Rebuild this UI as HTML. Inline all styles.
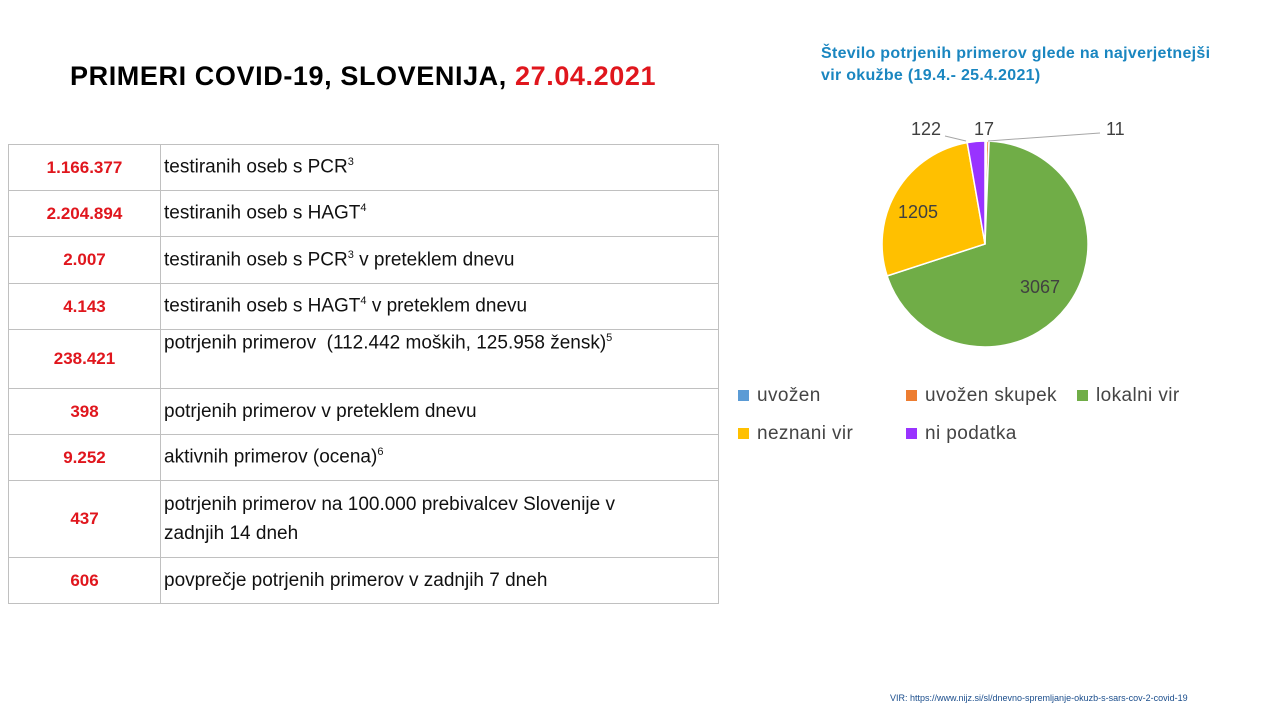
<!DOCTYPE html>
<html><head><meta charset="utf-8"><style>
body{margin:0;width:1280px;height:720px;background:#fff;position:relative;font-family:"Liberation Sans",sans-serif;overflow:hidden}
.t{position:absolute;left:70px;top:61px;font-size:27px;font-weight:bold;color:#000;letter-spacing:0.6px}
table{position:absolute;left:8px;top:144px;border-collapse:collapse;width:711px}
td{border:1px solid #c0c0c0;font-size:19px;color:#111;padding:0 0 0 3px;vertical-align:middle}
td.n{width:151px;text-align:center;color:#e0161d;font-weight:bold;font-size:17px;padding:0}
sup{font-size:11px}
.leg{position:absolute;font-size:19px;color:#444;letter-spacing:0.4px}
.sw{display:inline-block;width:11px;height:11px;margin-right:8px}
</style></head><body>
<div class="t">PRIMERI COVID-19, SLOVENIJA, <span style="color:#e0161d">27.04.2021</span></div>
<table>
<tr style="height:46px"><td class="n">1.166.377</td><td>testiranih oseb s PCR<sup>3</sup></td></tr>
<tr style="height:46px"><td class="n">2.204.894</td><td>testiranih oseb s HAGT<sup>4</sup></td></tr>
<tr style="height:47px"><td class="n">2.007</td><td>testiranih oseb s PCR<sup>3</sup> v preteklem dnevu</td></tr>
<tr style="height:46px"><td class="n">4.143</td><td>testiranih oseb s HAGT<sup>4</sup> v preteklem dnevu</td></tr>
<tr style="height:59px"><td class="n">238.421</td><td style="vertical-align:top;padding-top:2px">potrjenih primerov &nbsp;(112.442 moških, 125.958 žensk)<sup>5</sup></td></tr>
<tr style="height:46px"><td class="n">398</td><td>potrjenih primerov v preteklem dnevu</td></tr>
<tr style="height:46px"><td class="n">9.252</td><td>aktivnih primerov (ocena)<sup>6</sup></td></tr>
<tr style="height:77px"><td class="n">437</td><td style="line-height:29px">potrjenih primerov na 100.000 prebivalcev Slovenije v<br>zadnjih 14 dneh</td></tr>
<tr style="height:46px"><td class="n">606</td><td>povprečje potrjenih primerov v zadnjih 7 dneh</td></tr>
</table>
<div style="position:absolute;left:821px;top:43px;font-size:16px;font-weight:bold;color:#1a86c0;line-height:22px;letter-spacing:0.3px">Število potrjenih primerov glede na najverjetnejši<br>vir okužbe (19.4.- 25.4.2021)</div>
<svg style="position:absolute;left:0;top:0" width="1280" height="720">
<g stroke="#fff" stroke-width="1.5">
<path d="M985,244 L985,141 A103,103 0 0 1 986.6,141 Z" fill="#5b9bd5"/>
<path d="M985,244 L986.6,141 A103,103 0 0 1 989.1,141.1 Z" fill="#ed7d31"/>
<path d="M985,244 L989.1,141.1 A103,103 0 1 1 887.1,275.9 Z" fill="#70ad47"/>
<path d="M985,244 L887.1,275.9 A103,103 0 0 1 967.2,142.6 Z" fill="#ffc000"/>
<path d="M985,244 L967.2,142.6 A103,103 0 0 1 985,141 Z" fill="#9933ff"/>
</g>
<g stroke="#a6a6a6" stroke-width="1" fill="none">
<polyline points="945,136 966,141"/>
<polyline points="988,141 1100,133"/>
</g>
<g font-family="Liberation Sans,sans-serif" font-size="18" fill="#404040">
<text x="911" y="135">122</text><text x="974" y="135">17</text><text x="1106" y="135">11</text>
<text x="898" y="218">1205</text><text x="1020" y="293">3067</text>
</g>
<text x="890" y="701" font-size="9" fill="#1a4d8c" font-family="Liberation Sans,sans-serif">VIR: https://www.nijz.si/sl/dnevno-spremljanje-okuzb-s-sars-cov-2-covid-19</text>
</svg>
<div class="leg" style="left:738px;top:385px"><span class="sw" style="background:#5b9bd5"></span>uvožen</div>
<div class="leg" style="left:906px;top:385px"><span class="sw" style="background:#ed7d31"></span>uvožen skupek</div>
<div class="leg" style="left:1077px;top:385px"><span class="sw" style="background:#70ad47"></span>lokalni vir</div>
<div class="leg" style="left:738px;top:423px"><span class="sw" style="background:#ffc000"></span>neznani vir</div>
<div class="leg" style="left:906px;top:423px"><span class="sw" style="background:#9933ff"></span>ni podatka</div>
</body></html>
